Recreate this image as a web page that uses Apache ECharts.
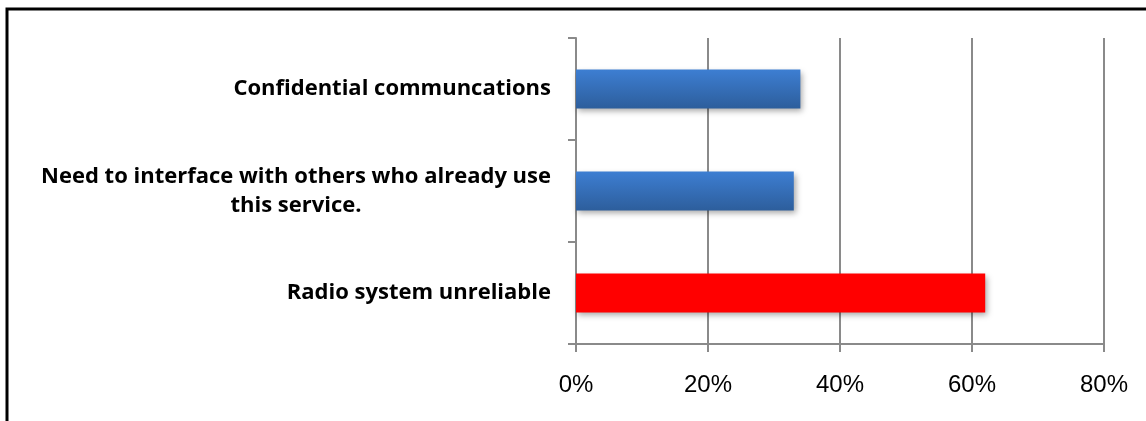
<!DOCTYPE html>
<html>
<head>
<meta charset="utf-8">
<style>
  html, body { margin: 0; padding: 0; background: #fff; }
  #chart { width: 1146px; height: 421px; }
</style>
<script src="https://cdn.jsdelivr.net/npm/echarts@6/dist/echarts.min.js"></script>
</head>
<body>
<div id="chart"></div>
<script>
// Categories listed bottom to top (category axis grows upward)
const categories = [
  'Radio system unreliable',
  'Need to interface with others who already use\nthis service.',
  'Confidential communcations'
];
// Share of respondents, percent
const values = [62, 33, 34];
const xTicks = [0, 20, 40, 60, 80];

const blueFill = new echarts.graphic.LinearGradient(0, 0, 0, 1, [
  { offset: 0, color: '#3D7ED2' },
  { offset: 1, color: '#2D5E9C' }
]);
const barColors = ['#FF0000', blueFill, blueFill];

const axisGray = '#8A8A8A';
const chart = echarts.init(document.getElementById('chart'));

chart.setOption({
  animation: false,
  backgroundColor: '#fff',
  graphic: [
    { type: 'polyline', shape: { points: [[7, 421], [7, 9], [1146, 9]] },
      style: { stroke: '#000', lineWidth: 3, fill: null } }
  ],
  grid: { left: 576, right: 42, top: 38, bottom: 77 },
  xAxis: {
    type: 'value',
    min: xTicks[0],
    max: xTicks[xTicks.length - 1],
    interval: 20,
    axisLine: { show: true, lineStyle: { color: axisGray, width: 2 } },
    axisTick: { show: true, length: 8, lineStyle: { color: axisGray, width: 2 } },
    splitLine: { show: true, lineStyle: { color: axisGray, width: 2 } },
    axisLabel: {
      formatter: v => v + '%',
      color: '#000',
      fontFamily: 'Liberation Sans, Arial, sans-serif',
      fontSize: 24,
      margin: 29
    }
  },
  yAxis: {
    type: 'category',
    data: categories,
    axisLine: { show: true, onZero: false, lineStyle: { color: axisGray, width: 2 } },
    axisTick: { show: true, length: 8, lineStyle: { color: axisGray, width: 2 } },
    axisLabel: {
      margin: 25,
      formatter: v => v.split('\n').map(s => '{c|' + s + '}').join('\n'),
      rich: {
        c: {
          align: 'center',
          color: '#000',
          fontFamily: 'Open Sans, sans-serif',
          fontWeight: 'bold',
          fontSize: 22,
          lineHeight: 29
        }
      }
    }
  },
  series: [{
    type: 'bar',
    barWidth: '38%',
    data: values.map((v, i) => ({
      value: v,
      itemStyle: {
        color: barColors[i],
        shadowColor: 'rgba(0,0,0,0.35)',
        shadowBlur: 6,
        shadowOffsetX: 2,
        shadowOffsetY: 3
      }
    }))
  }]
});
</script>
</body>
</html>
